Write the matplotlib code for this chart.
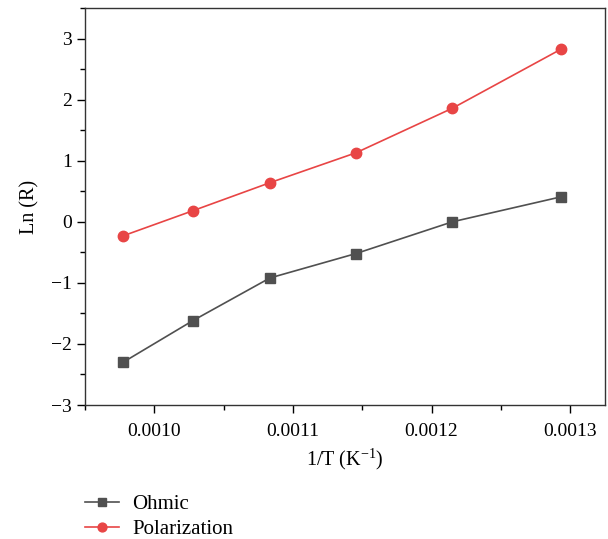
import numpy as np
import matplotlib.pyplot as plt
from matplotlib.ticker import MultipleLocator, AutoMinorLocator

plt.rcParams['font.family'] = ['Liberation Serif', 'DejaVu Serif']
plt.rcParams['axes.unicode_minus'] = True

# 1/T values (K^-1) and Ln(R) for the two resistances
inv_t = [0.0009775, 0.0010277, 0.0010834, 0.0011455, 0.0012151, 0.0012937]
ohmic = [-2.30, -1.62, -0.92, -0.52, 0.00, 0.41]
polarization = [-0.23, 0.18, 0.64, 1.13, 1.86, 2.83]


def main():
    fig = plt.figure(figsize=(6.08, 5.39), dpi=100)
    ax = fig.add_axes([0.1398, 0.2486, 0.855, 0.7365])

    ax.plot(inv_t, ohmic, color='#505050', marker='s', markersize=7,
            linewidth=1.2, label='Ohmic')
    ax.plot(inv_t, polarization, color='#e84545', marker='o', markersize=7.5,
            linewidth=1.2, label='Polarization')

    ax.set_xlim(0.000950, 0.001325)
    ax.set_ylim(-3, 3.5)
    ax.xaxis.set_major_locator(MultipleLocator(0.0001))
    ax.xaxis.set_minor_locator(AutoMinorLocator(2))
    ax.yaxis.set_major_locator(MultipleLocator(1))
    ax.yaxis.set_minor_locator(AutoMinorLocator(2))
    ax.xaxis.set_major_formatter(plt.FuncFormatter(lambda v, p: '%.4f' % v))

    ax.tick_params(which='both', direction='out', labelsize=14, width=1.0)
    ax.tick_params(axis='x', pad=7)
    ax.tick_params(which='major', length=6)
    ax.tick_params(which='minor', length=3.5)
    for s in ax.spines.values():
        s.set_linewidth(1.0)
        s.set_color('#333333')

    ax.set_xlabel('1/T (K$^{\\mathregular{-1}}$)', fontsize=14.5, labelpad=4)
    ax.set_ylabel('Ln (R)', fontsize=14.5, labelpad=8)

    ax.legend(loc='upper left', bbox_to_anchor=(-0.016, -0.205), frameon=False,
              fontsize=15, handlelength=1.65, handletextpad=0.6,
              labelspacing=0.25, borderaxespad=0, markerscale=0.85)

    fig.savefig('out.png', dpi=100)


if __name__ == '__main__':
    main()
